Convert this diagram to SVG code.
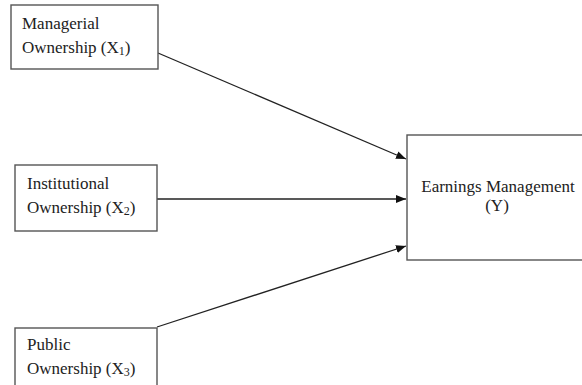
<svg xmlns="http://www.w3.org/2000/svg" width="582" height="385" viewBox="0 0 582 385">
<style>
.box{fill:#fff;stroke:#555;stroke-width:1.4}
.t{font-family:"Liberation Serif","Times New Roman",serif;font-size:17px;fill:#222}
.sub{font-size:12px}
.conn{stroke:#222;stroke-width:1.3;fill:none}
</style>
<defs>
<marker id="ah" markerWidth="10" markerHeight="8" refX="10" refY="4" orient="auto" markerUnits="userSpaceOnUse">
<path d="M0,0 L10,4 L0,8 Z" fill="#111"/>
</marker>
</defs>
<rect width="582" height="385" fill="#fff"/>
<g id="connectors">
<line class="conn" x1="158" y1="53" x2="406" y2="159" marker-end="url(#ah)"/>
<line class="conn" x1="157" y1="199" x2="406" y2="199" marker-end="url(#ah)"/>
<line class="conn" x1="157" y1="327" x2="406" y2="246" marker-end="url(#ah)"/>
</g>
<g id="n1">
<rect class="box" x="11" y="5" width="147" height="64"/>
<text class="t" x="22" y="29">Managerial</text>
<text class="t" x="22" y="52.5">Ownership (X<tspan class="sub" dy="2">1</tspan><tspan dy="-2">)</tspan></text>
</g>
<g id="n2">
<rect class="box" x="15" y="165" width="142" height="66"/>
<text class="t" x="27" y="189">Institutional</text>
<text class="t" x="27" y="212.5">Ownership (X<tspan class="sub" dy="2">2</tspan><tspan dy="-2">)</tspan></text>
</g>
<g id="n3">
<rect class="box" x="15" y="328" width="142" height="70"/>
<text class="t" x="27" y="350">Public</text>
<text class="t" x="27" y="374">Ownership (X<tspan class="sub" dy="2">3</tspan><tspan dy="-2">)</tspan></text>
</g>
<g id="ny">
<rect class="box" x="407" y="135" width="190" height="125"/>
<text class="t" x="498" y="191.5" text-anchor="middle">Earnings Management</text>
<text class="t" x="497" y="211" text-anchor="middle">(Y)</text>
</g>
</svg>
